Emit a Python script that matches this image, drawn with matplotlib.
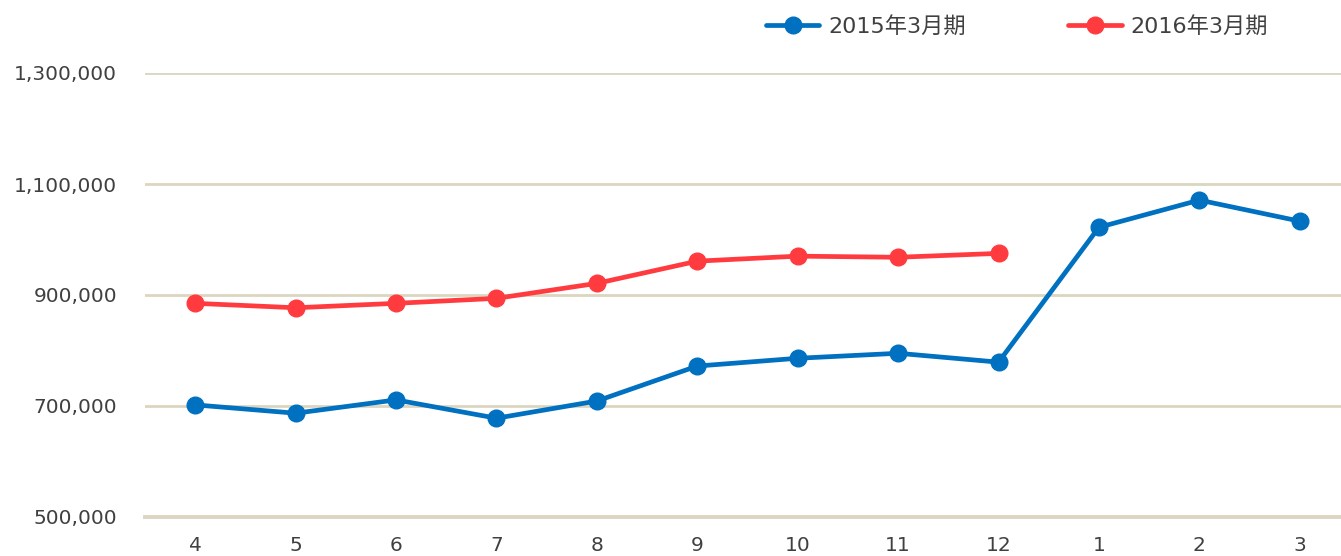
import matplotlib.pyplot as plt
from matplotlib.ticker import FuncFormatter

# 月次データ（4月〜翌3月）
months = ['4', '5', '6', '7', '8', '9', '10', '11', '12', '1', '2', '3']
fy2015 = [702000, 687000, 711000, 678000, 709000, 772000, 786000, 795000, 779000,
          1022000, 1071000, 1033000]
fy2016 = [885000, 877000, 885000, 894000, 921000, 961000, 970000, 968000, 975000]
labels = ['2015年3月期', '2016年3月期']
y_ticks = [500000, 700000, 900000, 1100000, 1300000]

plt.rcParams['font.family'] = ['DejaVu Sans', 'Noto Sans CJK JP']

fig = plt.figure(figsize=(13.41, 5.56), dpi=100)
ax = fig.add_axes([145 / 1341, 39 / 556, 1205 / 1341, 444 / 556])

blue = '#0070c0'
red = '#ff3b3f'
grid_c = '#dcd6c0'
text_c = '#404040'

x = list(range(len(months)))
ax.plot(x, fy2015, color=blue, lw=3.4, marker='o', ms=12, label=labels[0],
        solid_capstyle='round', clip_on=False)
ax.plot(x[:len(fy2016)], fy2016, color=red, lw=3.4, marker='o', ms=12, label=labels[1],
        solid_capstyle='round', clip_on=False)

ax.set_xlim(-0.5, len(months) - 0.5)
ax.set_ylim(500000, 1300000)
ax.set_xticks(x)
ax.set_xticklabels(months)
ax.set_yticks(y_ticks)
ax.yaxis.set_major_formatter(FuncFormatter(lambda v, p: f'{int(v):,}'))

ax.grid(True, axis='y', color=grid_c, lw=2)
ax.set_axisbelow(True)
for s in ['top', 'right', 'left']:
    ax.spines[s].set_visible(False)
ax.spines['bottom'].set_color(grid_c)
ax.spines['bottom'].set_linewidth(2.8)
ax.tick_params(axis='both', length=0, labelsize=14.5, colors=text_c)
ax.tick_params(axis='y', pad=20)
ax.tick_params(axis='x', pad=14)

fig.legend(loc='center', bbox_to_anchor=(1017 / 1341, 1 - 26 / 556), ncol=2,
           frameon=False, fontsize=16, handlelength=2.4, handletextpad=0.4,
           columnspacing=4.6, labelcolor=text_c)

fig.savefig('out.png', dpi=100)
